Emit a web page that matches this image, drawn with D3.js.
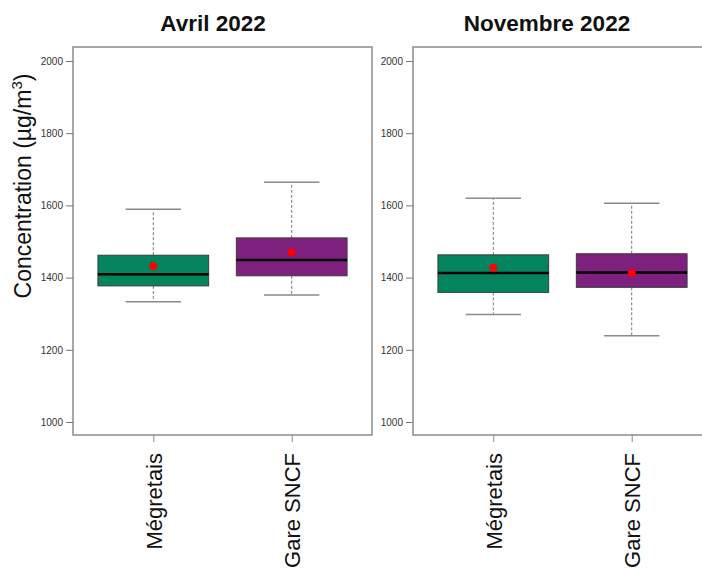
<!DOCTYPE html>
<html>
<head>
<meta charset="utf-8">
<script src="https://cdn.jsdelivr.net/npm/d3@7"></script>
<style>
  html, body { margin: 0; padding: 0; background: #fff; }
  svg { display: block; font-family: "Liberation Sans", Arial, sans-serif; }
</style>
</head>
<body>
<svg id="chart" width="702" height="569"></svg>
<script>
// Campaign periods (one panel each) and measurement sites
const periods = ["Avril 2022", "Novembre 2022"];
const sites = ["Mégretais", "Gare SNCF"];

// Box plot statistics per period, per site (µg/m³)
const whiskerLow  = [[1333, 1352], [1298, 1239]];
const quartile1   = [[1377, 1405], [1359, 1373]];
const medians     = [[1409, 1449], [1413, 1414]];
const quartile3   = [[1462, 1510], [1463, 1466]];
const whiskerHigh = [[1589, 1664], [1620, 1606]];
const means       = [[1432, 1470], [1427, 1413]];

const yTicks = [1000, 1200, 1400, 1600, 1800, 2000];
const siteColors = ["#03845f", "#7d207e"];

const svg = d3.select("#chart");

// Panel geometry
const panelLefts = [73, 413];
const panelWidth = 299;
const frameTop = 47, frameBottom = 435;
const titleOffsets = [140, 134];

const y = d3.scaleLinear().domain([1000, 2000]).range([422, 61]);
const x = d3.scaleLinear().domain([0.42, 2.58]).range([0, panelWidth]);
const boxHalf = x(1.4) - x(1);
const capHalf = x(1.2) - x(1);

// Shared y-axis title
svg.append("text")
  .attr("transform", "translate(31,186) rotate(-90)")
  .attr("text-anchor", "middle")
  .attr("font-size", 23)
  .attr("fill", "#111")
  .call(t => {
    t.append("tspan").text("Concentration (µg/m");
    t.append("tspan").attr("font-size", 15).attr("dy", -9).text("3");
    t.append("tspan").attr("dy", 9).text(")");
  });

periods.forEach((period, p) => {
  const g = svg.append("g").attr("transform", `translate(${panelLefts[p]},0)`);

  // Title
  g.append("text")
    .attr("x", titleOffsets[p])
    .attr("y", 31)
    .attr("text-anchor", "middle")
    .attr("font-size", 22.5)
    .attr("font-weight", "bold")
    .attr("fill", "#111")
    .text(period);

  // Frame
  g.append("rect")
    .attr("x", 0).attr("y", frameTop)
    .attr("width", panelWidth).attr("height", frameBottom - frameTop)
    .attr("fill", "none")
    .attr("stroke", "#8c8c8c")
    .attr("stroke-width", 1.5);

  // Y axis
  const yAxis = d3.axisLeft(y).tickValues(yTicks).tickSize(7).tickPadding(3).tickFormat(d3.format("d"));
  const ya = g.append("g").call(yAxis);
  ya.select(".domain").remove();
  ya.selectAll(".tick line").attr("stroke", "#777");
  ya.selectAll(".tick text").attr("font-size", 10).attr("fill", "#333")
    .attr("font-family", "'Liberation Sans', Arial, sans-serif");

  // X axis ticks and rotated site labels
  const xa = g.append("g").attr("transform", `translate(0,${frameBottom})`)
    .call(d3.axisBottom(x).tickValues([1, 2]).tickSize(7).tickFormat(""));
  xa.select(".domain").remove();
  xa.selectAll(".tick line").attr("stroke", "#888");

  sites.forEach((site, s) => {
    g.append("text")
      .attr("transform", `translate(${x(s + 1) + 8.5},453) rotate(-90)`)
      .attr("text-anchor", "end")
      .attr("font-size", 22)
      .attr("fill", "#111")
      .text(site);
  });

  // Boxes
  sites.forEach((site, s) => {
    const cx = x(s + 1);
    const b = g.append("g");
    // whiskers
    b.append("line")
      .attr("x1", cx).attr("x2", cx)
      .attr("y1", y(quartile3[p][s])).attr("y2", y(whiskerHigh[p][s]))
      .attr("stroke", "#777").attr("stroke-width", 1).attr("stroke-dasharray", "3,2");
    b.append("line")
      .attr("x1", cx).attr("x2", cx)
      .attr("y1", y(quartile1[p][s])).attr("y2", y(whiskerLow[p][s]))
      .attr("stroke", "#777").attr("stroke-width", 1).attr("stroke-dasharray", "3,2");
    // caps
    [whiskerHigh[p][s], whiskerLow[p][s]].forEach(v => {
      b.append("line")
        .attr("x1", cx - capHalf).attr("x2", cx + capHalf)
        .attr("y1", y(v)).attr("y2", y(v))
        .attr("stroke", "#8a8a8a").attr("stroke-width", 1.5);
    });
    // box
    b.append("rect")
      .attr("x", cx - boxHalf).attr("width", 2 * boxHalf)
      .attr("y", y(quartile3[p][s]))
      .attr("height", y(quartile1[p][s]) - y(quartile3[p][s]))
      .attr("fill", siteColors[s])
      .attr("stroke", "#3c3c3c").attr("stroke-width", 1);
    // median
    b.append("line")
      .attr("x1", cx - boxHalf).attr("x2", cx + boxHalf)
      .attr("y1", y(medians[p][s])).attr("y2", y(medians[p][s]))
      .attr("stroke", "#000").attr("stroke-width", 2.5);
    // mean
    b.append("circle")
      .attr("cx", cx).attr("cy", y(means[p][s])).attr("r", 4)
      .attr("fill", "#ff0000");
  });
});
</script>
</body>
</html>
